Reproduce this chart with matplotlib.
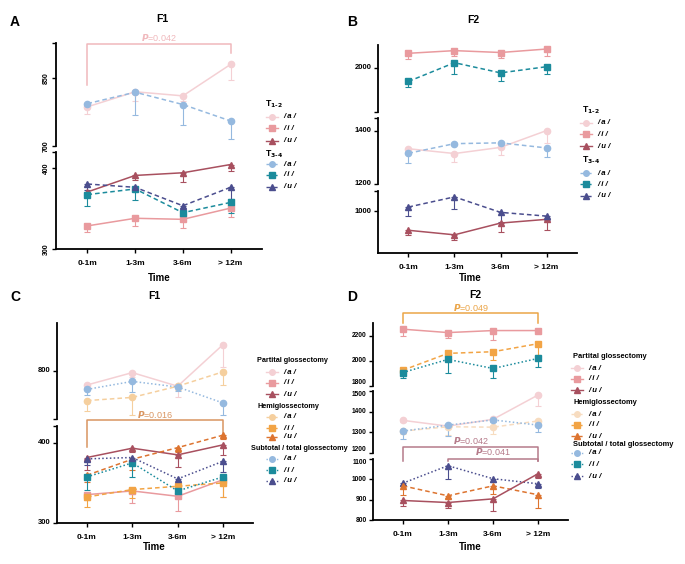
import numpy as np
import matplotlib.pyplot as plt
from matplotlib.lines import Line2D

plt.rcParams['font.family'] = ['Liberation Sans', 'DejaVu Sans']
plt.rcParams['font.weight'] = 'bold'

W, H = 685, 564
fig = plt.figure(figsize=(6.85, 5.64), dpi=100)

times = ['0-1m', '1-3m', '3-6m', '> 12m']
x = np.arange(4)

# ---- panel A : F1 by T stage
A_a12 = [786, 819, 810, 879];  A_a12_e = [15, 20, 12, 34]
A_a34 = [793, 818, 791, 755];  A_a34_e = [8, 50, 45, 39]
A_i12 = [328.6, 338, 336.7, 350.6]; A_i12_e = [7, 10, 11, 10.6]
A_u12 = [370.6, 391, 394.3, 404.5]; A_u12_e = [5, 6, 12, 7.5]
A_i34 = [367.3, 374.3, 344.9, 357.6]; A_i34_e = [14, 14, 5, 13]
A_u34 = [380.4, 376.3, 353.5, 376.3]; A_u34_e = [8, 4, 3, 14]

# ---- panel B : F2 by T stage
B_i12 = [2054, 2064, 2057, 2070]; B_i12_e = [22, 20, 22, 25]
B_i34 = [1949, 2019, 1981, 2004]; B_i34_e = [20, 43, 30, 28]
B_a12 = [1332, 1314, 1337, 1400]; B_a12_e = [16, 30, 30, 46]
B_a34 = [1315, 1351, 1354, 1335]; B_a34_e = [36, 5, 10, 35]
B_u12 = [929, 912, 956, 970];     B_u12_e = [17, 21, 34, 39]
B_u34 = [1016, 1054, 996, 982];   B_u34_e = [35, 44, 36, 16]

# ---- panel C : F1 by surgery
C_ap = [782.5, 798, 781, 833]; C_ap_e = [5, 5, 14, 28]
C_ah = [763, 767, 781, 799];   C_ah_e = [13, 22, 5, 17]
C_as = [777, 787, 780, 760];   C_as_e = [7, 13, 5, 15]
C_ip = [335.4, 340, 333.3, 354]; C_ip_e = [7, 15, 18, 21]
C_up = [381.7, 393.3, 385, 397.5]; C_up_e = [15, 5, 15, 13]
C_ih = [332.5, 341.7, 345.8, 350]; C_ih_e = [13, 10, 5, 18]
C_uh = [359.6, 379.6, 394, 409.6]; C_uh_e = [8, 14, 5, 5]
C_is = [357.5, 375, 340, 357.5]; C_is_e = [16, 17, 5, 5]
C_us = [380, 381.7, 355, 377];   C_us_e = [8, 4, 5, 13]

# ---- panel D : F2 by surgery
D_ip = [2251, 2224, 2240, 2240]; D_ip_e = [55, 45, 75, 20]
D_ih = [1925, 2059, 2072, 2136]; D_ih_e = [20, 60, 67, 91]
D_is = [1907, 2011, 1939, 2019]; D_is_e = [43, 107, 75, 72]
D_ap = [1358, 1330, 1363, 1481]; D_ap_e = [10, 10, 10, 53]
D_ah = [1306, 1327, 1325, 1355]; D_ah_e = [15, 40, 35, 20]
D_as = [1306, 1335, 1360, 1335]; D_as_e = [37, 53, 10, 32]
D_us = [981, 1067, 1003, 978];   D_us_e = [10, 64, 15, 20]
D_uh = [968, 919, 968, 924];     D_uh_e = [44, 10, 40, 66]
D_up = [896, 886, 904, 1028];    D_up_e = [27, 28, 59, 20]

c_a1, c_i1, c_u1 = '#f4d0d4', '#e99a9e', '#a8505f'
c_a3, c_i3, c_u3 = '#95b9df', '#1b8b9c', '#4b4e8e'
c_ah, c_ih, c_uh = '#f5cf9e', '#f2a445', '#dd7430'
c_ah2 = '#f7dcc0'
DASH = (0, (3, 2))
DOT = (0, (1, 1.5))


def box(l, t, r, b):
    return fig.add_axes([l / W, 1 - b / H, (r - l) / W, (b - t) / H])


def seg(ax, ylim, ticks, labels, bottom=False, rot=0, fs=5.5, vas=None):
    ax.set_xlim(-0.66, 3.66)
    ax.set_ylim(ylim)
    ax.patch.set_alpha(0)
    for s in ['top', 'right']:
        ax.spines[s].set_visible(False)
    ax.spines['left'].set_linewidth(1.3)
    ax.spines['bottom'].set_linewidth(1.3)
    ax.set_yticks(ticks)
    ax.set_yticklabels(labels, rotation=rot, va='center', fontsize=fs, fontweight='bold')
    if vas:
        for lab, va in zip(ax.get_yticklabels(), vas):
            lab.set_va(va)
    ax.tick_params(axis='y', length=3, width=1, pad=1.5)
    if bottom:
        ax.set_xticks(x)
        ax.set_xticklabels(times, fontsize=6, fontweight='bold')
        ax.tick_params(axis='x', length=3, width=1, pad=5)
    else:
        ax.spines['bottom'].set_visible(False)
        ax.tick_params(axis='x', bottom=False, labelbottom=False)


def series(ax, y, e, color, ls, marker):
    ax.errorbar(x, y, yerr=[e, np.zeros(4)], color=color, ls=ls, lw=1.1,
                marker=marker, ms=4.5, mec=color, ecolor=color, elinewidth=0.8,
                capsize=2, capthick=0.8, clip_on=False, zorder=3)


def bracket(ax, x0, x1, yh, yl0, yl1, ytxt, txt, color, xt=None):
    ax.plot([x0, x0, x1, x1], [yl0, yh, yh, yl1], color=color, lw=1.1, clip_on=False)
    xt = (x0 + x1) / 2 if xt is None else xt
    ax.text(xt, ytxt, r'$\mathit{P}$' + txt, color=color, ha='center', va='center',
            fontsize=6.5, fontweight='normal', clip_on=False)


def legend(hx, lx, rows, hfs=6.2):
    for row in rows:
        if row[0] == 'h':
            hxx = row[3] if len(row) > 3 else hx
            fig.text(hxx / W, 1 - row[1] / H, row[2], fontsize=hfs, fontweight='bold',
                     va='center', ha='left')
        else:
            _, y, txt, color, ls, marker = row
            yy = 1 - y / H
            fig.add_artist(Line2D([(lx - 17) / W, (lx - 5) / W], [yy, yy], color=color,
                                  ls=ls, lw=1.0, transform=fig.transFigure))
            fig.add_artist(Line2D([(lx - 11) / W], [yy], color=color, marker=marker, ms=4,
                                  transform=fig.transFigure))
            fig.text(lx / W, yy, txt, fontsize=5.6, fontweight='bold', style='italic',
                     va='center', ha='left')


# ================= Panel A
ta = box(56, 43, 262, 146)
ba = box(56, 152, 262, 249)
seg(ta, (700, 926), [700, 850, 926], ['700', '850', ''], rot=90, fs=5)
seg(ba, (300, 420), [300, 400, 420], ['300', '400', ''], bottom=True, rot=90, fs=5)
series(ta, A_a12, A_a12_e, c_a1, '-', 'o')
series(ta, A_a34, A_a34_e, c_a3, DASH, 'o')
series(ba, A_i12, A_i12_e, c_i1, '-', 's')
series(ba, A_u12, A_u12_e, c_u1, '-', '^')
series(ba, A_i34, A_i34_e, c_i3, DASH, 's')
series(ba, A_u34, A_u34_e, c_u3, DASH, '^')
bracket(ta, 0, 3, 923.5, 834, 904, 937, '=0.042', '#f0b8bc')
fig.text(162 / W, 1 - 19 / H, 'F1', fontsize=7.5, fontweight='bold', ha='center', va='center')
fig.text(15 / W, 1 - 22 / H, 'A', fontsize=10, fontweight='bold', ha='center', va='center')
fig.text(159 / W, 1 - 278 / H, 'Time', fontsize=7, fontweight='bold', ha='center', va='center')
legend(265, 283, [('h', 104, r'T$_{\mathbf{1\text{-}2}}$'),
                  ('s', 117, '/ a /', c_a1, '-', 'o'),
                  ('s', 128, '/ i /', c_i1, '-', 's'),
                  ('s', 141, '/ u /', c_u1, '-', '^'),
                  ('h', 154, r'T$_{\mathbf{3\text{-}4}}$'),
                  ('s', 164, '/ a /', c_a3, DASH, 'o'),
                  ('s', 175, '/ i /', c_i3, DASH, 's'),
                  ('s', 187, '/ u /', c_u3, DASH, '^')])

# ================= Panel B
tb = box(378, 45, 577, 112)
mb = box(378, 118, 577, 184)
bb = box(378, 191, 577, 253)
seg(tb, (1835, 2085), [1835, 2000], ['', '2000'])
seg(mb, (1200, 1447), [1200, 1400, 1447], ['1200', '1400', ''])
seg(bb, (844, 1076), [1000, 1076], ['1000', ''], bottom=True)
series(tb, B_i12, B_i12_e, c_i1, '-', 's')
series(tb, B_i34, B_i34_e, c_i3, DASH, 's')
series(mb, B_a12, B_a12_e, c_a1, '-', 'o')
series(mb, B_a34, B_a34_e, c_a3, DASH, 'o')
series(bb, B_u12, B_u12_e, c_u1, '-', '^')
series(bb, B_u34, B_u34_e, c_u3, DASH, '^')
fig.text(473 / W, 1 - 20 / H, 'F2', fontsize=7.5, fontweight='bold', ha='center', va='center')
fig.text(352 / W, 1 - 22 / H, 'B', fontsize=10, fontweight='bold', ha='center', va='center')
fig.text(470 / W, 1 - 278 / H, 'Time', fontsize=7, fontweight='bold', ha='center', va='center')
legend(582, 597, [('h', 110, r'T$_{\mathbf{1\text{-}2}}$'),
                  ('s', 123, '/ a /', c_a1, '-', 'o'),
                  ('s', 134, '/ i /', c_i1, '-', 's'),
                  ('s', 146, '/ u /', c_u1, '-', '^'),
                  ('h', 160, r'T$_{\mathbf{3\text{-}4}}$'),
                  ('s', 173, '/ a /', c_a3, DASH, 'o'),
                  ('s', 184, '/ i /', c_i3, DASH, 's'),
                  ('s', 196, '/ u /', c_u3, DASH, '^')])

# ================= Panel C
tc = box(57, 323, 253, 419)
bc = box(57, 426, 253, 523)
seg(tc, (740, 860), [740, 800], ['', '800'])
seg(bc, (300, 421), [300, 400, 421], ['300', '400', ''], bottom=True)
series(tc, C_ap, C_ap_e, c_a1, '-', 'o')
series(tc, C_ah, C_ah_e, c_ah, DASH, 'o')
series(tc, C_as, C_as_e, c_a3, DOT, 'o')
series(bc, C_ip, C_ip_e, c_i1, '-', 's')
series(bc, C_up, C_up_e, c_u1, '-', '^')
series(bc, C_ih, C_ih_e, c_ih, DASH, 's')
series(bc, C_uh, C_uh_e, c_uh, DASH, '^')
series(bc, C_is, C_is_e, c_i3, DOT, 's')
series(bc, C_us, C_us_e, c_u3, DOT, '^')
bracket(bc, 0, 3, 428, 395, 411, 435, '=0.016', '#d99560')
fig.text(154 / W, 1 - 296 / H, 'F1', fontsize=7.5, fontweight='bold', ha='center', va='center')
fig.text(15 / W, 1 - 297 / H, 'C', fontsize=10, fontweight='bold', ha='center', va='center')
fig.text(154 / W, 1 - 547 / H, 'Time', fontsize=7, fontweight='bold', ha='center', va='center')
legend(257, 283, [('h', 361, 'Partital glossectomy'),
                  ('s', 372, '/ a /', c_a1, '-', 'o'),
                  ('s', 383, '/ i /', c_i1, '-', 's'),
                  ('s', 394, '/ u /', c_u1, '-', '^'),
                  ('h', 406, 'Hemiglossectomy'),
                  ('s', 417, '/ a /', c_ah, DASH, 'o'),
                  ('s', 428, '/ i /', c_ih, DASH, 's'),
                  ('s', 437, '/ u /', c_uh, DASH, '^'),
                  ('h', 448, 'Subtotal / total glossectomy', 251),
                  ('s', 459, '/ a /', c_a3, DOT, 'o'),
                  ('s', 470, '/ i /', c_i3, DOT, 's'),
                  ('s', 481, '/ u /', c_u3, DOT, '^')], hfs=5.2)

# ================= Panel D
td = box(373, 323, 568, 386)
md = box(373, 391, 568, 453)
bd = box(373, 459, 568, 520)
seg(td, (1800, 2300), [1800, 2000, 2200], ['1800', '2000', '2200'], fs=4.8,
    vas=['bottom', 'center', 'center'])
seg(md, (1200, 1500), [1200, 1300, 1400, 1500], ['1200', '1300', '1400', '1500'], fs=4.8,
    vas=['bottom', 'center', 'center', 'top'])
seg(bd, (800, 1100), [800, 900, 1000, 1100], ['800', '900', '1000', '1100'], bottom=True,
    fs=4.8, vas=['center', 'center', 'center', 'top'])
series(td, D_ip, D_ip_e, c_i1, '-', 's')
series(td, D_ih, D_ih_e, c_ih, DASH, 's')
series(td, D_is, D_is_e, c_i3, DOT, 's')
series(md, D_ap, D_ap_e, c_a1, '-', 'o')
series(md, D_ah, D_ah_e, c_ah2, DASH, 'o')
series(md, D_as, D_as_e, c_a3, DOT, 'o')
series(bd, D_us, D_us_e, c_u3, DOT, '^')
series(bd, D_uh, D_uh_e, c_uh, DASH, '^')
series(bd, D_up, D_up_e, c_u1, '-', '^')
bracket(td, 0, 3, 2379, 2299, 2299, 2424, '=0.049', '#eba548')
bracket(bd, 0, 3, 1158, 1088, 1088, 1190, '=0.042', '#b57a8a')
bracket(bd, 1, 3, 1102, 1090, 1090, 1135, '=0.041', '#b57a8a')
fig.text(475 / W, 1 - 295 / H, 'F2', fontsize=7.5, fontweight='bold', ha='center', va='center')
fig.text(352 / W, 1 - 297 / H, 'D', fontsize=10, fontweight='bold', ha='center', va='center')
fig.text(470 / W, 1 - 547 / H, 'Time', fontsize=7, fontweight='bold', ha='center', va='center')
legend(573, 588, [('h', 357, 'Partital glossectomy'),
                  ('s', 368, '/ a /', c_a1, '-', 'o'),
                  ('s', 379, '/ i /', c_i1, '-', 's'),
                  ('s', 390, '/ u /', c_u1, '-', '^'),
                  ('h', 403, 'Hemiglossectomy'),
                  ('s', 414, '/ a /', c_ah2, DASH, 'o'),
                  ('s', 425, '/ i /', c_ih, DASH, 's'),
                  ('s', 436, '/ u /', c_uh, DASH, '^'),
                  ('h', 444, 'Subtotal / total glossectomy'),
                  ('s', 453, '/ a /', c_a3, DOT, 'o'),
                  ('s', 464, '/ i /', c_i3, DOT, 's'),
                  ('s', 476, '/ u /', c_u3, DOT, '^')], hfs=5.4)

fig.savefig('out.png', dpi=100)
